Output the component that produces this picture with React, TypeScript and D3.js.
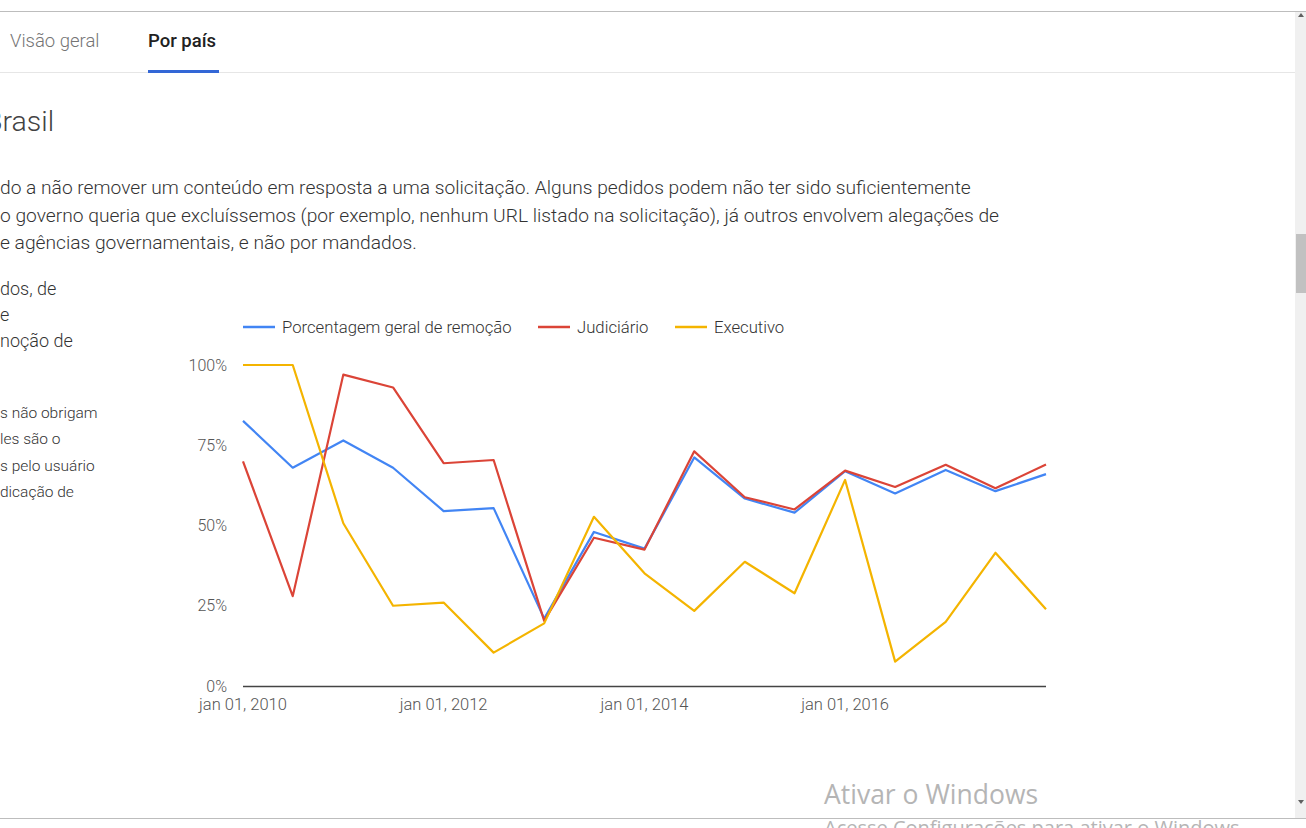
import React, { useEffect, useRef } from 'react';
import * as d3 from 'd3';

// half-year periods
const periods = [
  '2010-01-01', '2010-07-01', '2011-01-01', '2011-07-01', '2012-01-01', '2012-07-01',
  '2013-01-01', '2013-07-01', '2014-01-01', '2014-07-01', '2015-01-01', '2015-07-01',
  '2016-01-01', '2016-07-01', '2017-01-01', '2017-07-01', '2018-01-01',
];
const overall = [82.6, 68, 76.5, 68, 54.5, 55.4, 21, 48, 42.8, 71.2, 58.4, 54, 66.9, 60, 67.3, 60.7, 66];
const judiciary = [70, 28, 97, 93, 69.4, 70.4, 20.3, 46.2, 42.5, 73.1, 58.8, 55, 67.1, 62, 68.9, 61.6, 69];
const executive = [100, 100, 50.7, 25, 26, 10.4, 19.5, 52.7, 35.1, 23.4, 38.7, 28.9, 64.2, 7.6, 20, 41.5, 23.9];

const seriesNames = ['Porcentagem geral de remoção', 'Judiciário', 'Executivo'];
const seriesColors = ['#4285f4', '#db4437', '#f4b400'];
const yTicks = [0, 25, 50, 75, 100];
const xTicks = ['2010-01-01', '2012-01-01', '2014-01-01', '2016-01-01'];

const tabs = ['Visão geral', 'Por país'];
const title = 'Brasil';
const paragraph = [
  'do a não remover um conteúdo em resposta a uma solicitação. Alguns pedidos podem não ter sido suficientemente',
  'o governo queria que excluíssemos (por exemplo, nenhum URL listado na solicitação), já outros envolvem alegações de',
  'e agências governamentais, e não por mandados.',
];
const sideLarge = ['dos, de', 'e', 'noção de'];
const sideSmall = ['s não obrigam', 'les são o', 's pelo usuário', 'dicação de'];

const ptMonths = ['jan', 'fev', 'mar', 'abr', 'mai', 'jun', 'jul', 'ago', 'set', 'out', 'nov', 'dez'];
const fmtDate = (d: Date) => `${ptMonths[d.getMonth()]} ${d3.timeFormat('%d, %Y')(d)}`;

const App: React.FC = () => {
  const svgRef = useRef<SVGSVGElement | null>(null);

  useEffect(() => {
    if (!svgRef.current) return;
    const W = 1306;
    const H = 828;
    const font = 'Roboto, Arial, sans-serif';
    const svg = d3.select(svgRef.current).attr('width', W).attr('height', H);
    svg.selectAll('*').remove();

    svg.append('rect').attr('width', W).attr('height', H).attr('fill', '#fff');

    // page chrome
    svg.append('line').attr('x1', 0).attr('x2', W).attr('y1', 11.5).attr('y2', 11.5).attr('stroke', '#bdbdbd');
    svg.append('line').attr('x1', 0).attr('x2', 1295).attr('y1', 72.5).attr('y2', 72.5).attr('stroke', '#e6e6e6');

    svg.append('text').attr('x', 10).attr('y', 47).text(tabs[0])
      .attr('font-family', font).attr('font-size', 18.5).attr('font-weight', 300).attr('fill', '#757575');
    svg.append('text').attr('x', 148).attr('y', 47).text(tabs[1])
      .attr('font-family', font).attr('font-size', 18.5).attr('font-weight', 500).attr('fill', '#212121');
    svg.append('rect').attr('x', 148).attr('y', 70).attr('width', 71).attr('height', 3).attr('fill', '#3367d6');

    svg.append('text').attr('x', -15).attr('y', 131).text(title)
      .attr('font-family', font).attr('font-size', 28.5).attr('font-weight', 300).attr('fill', '#424242');

    svg.append('g').selectAll('text').data(paragraph).enter().append('text')
      .attr('x', 0).attr('y', (_, i) => 194 + i * 27.5).text((d) => d)
      .attr('font-family', font).attr('font-size', 19.2).attr('font-weight', 300).attr('fill', '#333');

    svg.append('g').selectAll('text').data(sideLarge).enter().append('text')
      .attr('x', 0).attr('y', (_, i) => 295 + i * 26).text((d) => d)
      .attr('font-family', font).attr('font-size', 18).attr('font-weight', 300).attr('fill', '#333');
    svg.append('g').selectAll('text').data(sideSmall).enter().append('text')
      .attr('x', 0).attr('y', (_, i) => 418 + i * 26.3).text((d) => d)
      .attr('font-family', font).attr('font-size', 15.5).attr('font-weight', 300).attr('fill', '#333');

    // chart
    const dates = periods.map((p) => new Date(p + 'T00:00:00'));
    const x = d3.scaleTime().domain([dates[0], dates[dates.length - 1]]).range([243, 1046]);
    const y = d3.scaleLinear().domain([0, 100]).range([686, 365]);

    svg.append('g').selectAll('text').data(yTicks).enter().append('text')
      .attr('x', 227).attr('y', (d) => y(d) + 5.5).attr('text-anchor', 'end')
      .text((d) => `${d}%`)
      .attr('font-family', font).attr('font-size', 16).attr('font-weight', 300).attr('fill', '#555');

    svg.append('g').selectAll('text').data(xTicks).enter().append('text')
      .attr('x', (d) => x(new Date(d + 'T00:00:00'))).attr('y', 710).attr('text-anchor', 'middle')
      .text((d) => fmtDate(new Date(d + 'T00:00:00')))
      .attr('font-family', font).attr('font-size', 16.5).attr('font-weight', 300).attr('fill', '#555');

    const seriesData = [overall, judiciary, executive];
    const line = d3.line<number>().x((_, i) => x(dates[i])).y((d) => y(d));
    seriesData.forEach((vals, i) => {
      svg.append('path').attr('d', line(vals) as string).attr('fill', 'none')
        .attr('stroke', seriesColors[i]).attr('stroke-width', 2.2).attr('stroke-linejoin', 'round');
    });

    svg.append('line').attr('x1', x(dates[0])).attr('x2', x(dates[dates.length - 1]))
      .attr('y1', y(0) + 0.5).attr('y2', y(0) + 0.5).attr('stroke', '#444').attr('stroke-width', 1.3);

    // legend
    const legendX = [243, 538, 675];
    const legend = svg.append('g').selectAll('g').data(seriesNames).enter().append('g')
      .attr('transform', (_, i) => `translate(${legendX[i]},327)`);
    legend.append('line').attr('x1', 0).attr('x2', 32).attr('y1', 0).attr('y2', 0)
      .attr('stroke', (_, i) => seriesColors[i]).attr('stroke-width', 2.5);
    legend.append('text').attr('x', 39).attr('y', 6).text((d) => d)
      .attr('font-family', font).attr('font-size', 16.7).attr('font-weight', 300).attr('fill', '#333');

    // scrollbar
    svg.append('rect').attr('x', 1295).attr('y', 12).attr('width', 11).attr('height', 806).attr('fill', '#f0f0f0');
    svg.append('rect').attr('x', 1296).attr('y', 234).attr('width', 10).attr('height', 59).attr('fill', '#c1c1c1');
    svg.append('path').attr('d', 'M1298,17 L1304,17 L1301,13 Z').attr('fill', '#606060');
    svg.append('path').attr('d', 'M1298,800 L1304,800 L1301,804 Z').attr('fill', '#606060');
    svg.append('line').attr('x1', 0).attr('x2', W).attr('y1', 818.5).attr('y2', 818.5).attr('stroke', '#bdbdbd');

    // windows watermark
    svg.append('text').attr('x', 824).attr('y', 804).text('Ativar o Windows')
      .attr('font-family', '"Open Sans", sans-serif').attr('font-size', 26.5).attr('fill', '#b5b5b5');
    svg.append('text').attr('x', 824).attr('y', 835).text('Acesse Configurações para ativar o Windows')
      .attr('font-family', '"Open Sans", sans-serif').attr('font-size', 20).attr('fill', '#b5b5b5');
  }, []);

  return (
    <div style={{ position: 'fixed', left: 0, top: 0, width: 1306, height: 828, overflow: 'hidden' }}>
      <svg ref={svgRef} style={{ display: 'block' }}></svg>
    </div>
  );
};

export default App;
